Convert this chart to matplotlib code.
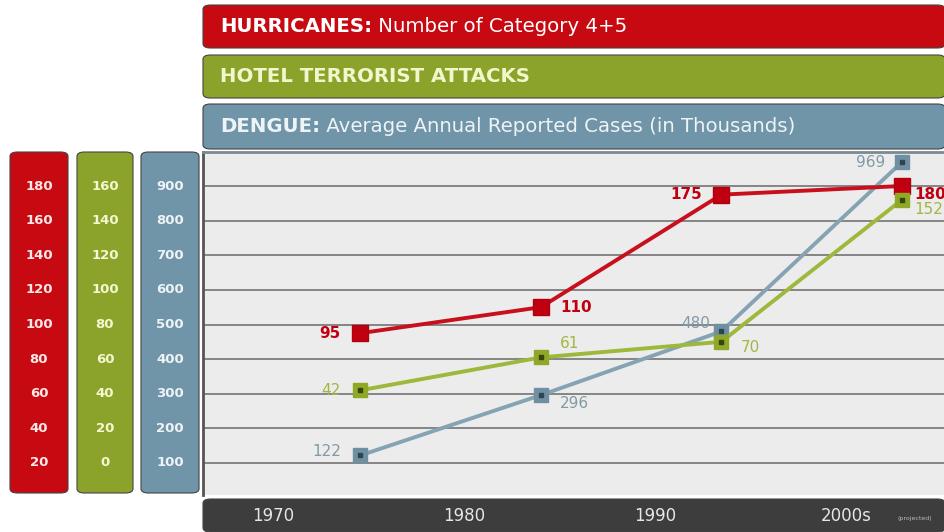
import matplotlib.pyplot as plt
from matplotlib.patches import FancyBboxPatch

# Data
decades = ['1970', '1980', '1990', '2000s']
hurricanes = [95, 110, 175, 180]
hotel_attacks = [42, 61, 70, 152]
dengue = [122, 296, 480, 969]

red_ticks = [20, 40, 60, 80, 100, 120, 140, 160, 180]
green_ticks = [0, 20, 40, 60, 80, 100, 120, 140, 160]
blue_ticks = [100, 200, 300, 400, 500, 600, 700, 800, 900]

RED = '#c70a12'
GREEN = '#8ba32a'
BLUE = '#7094a8'
RED_LINE = '#c8101c'
GREEN_LINE = '#9db83a'
BLUE_LINE = '#86a3b3'

W, H = 945, 532
fig = plt.figure(figsize=(W / 100, H / 100), dpi=100)
fig.patch.set_facecolor('white')


def fbox(x0, y0, x1, y1):
    # pixel box (top-left origin) -> figure fraction rect
    return [x0 / W, 1 - y1 / H, (x1 - x0) / W, (y1 - y0) / H]


def rounded(x0, y0, x1, y1, color):
    r = fbox(x0, y0, x1, y1)
    p = FancyBboxPatch((r[0], r[1]), r[2], r[3],
                       boxstyle='round,pad=0,rounding_size=0.008',
                       transform=fig.transFigure, facecolor=color,
                       edgecolor='#444444', linewidth=0.8, zorder=-5)
    fig.patches.append(p)


# Header banners
banners = [
    (5, 48, RED, 'HURRICANES:', ' Number of Category 4+5', 'white'),
    (55, 98, GREEN, 'HOTEL TERRORIST ATTACKS', '', '#f2f6cc'),
    (104, 149, BLUE, 'DENGUE:', ' Average Annual Reported Cases (in Thousands)', '#eef3f6'),
]
for y0, y1, col, bold, rest, tcol in banners:
    rounded(203, y0, 945, y1, col)
    yc = 1 - ((y0 + y1) / 2) / H
    t = fig.text(220 / W, yc, bold, color=tcol, fontsize=14.2, fontweight='bold',
                 va='center', ha='left', family='DejaVu Sans')
    if rest:
        fig.canvas.draw()
        bb = t.get_window_extent()
        fig.text(bb.x1 / W, yc, rest, color=tcol, fontsize=14.2,
                 va='center', ha='left', family='DejaVu Sans')

# Main plot area (blue scale as base)
top, bot = 152, 495
ax = fig.add_axes(fbox(203, top, 945, bot))
ax.set_facecolor('#ececec')
xpos = list(range(len(decades)))
ax.set_xlim(-0.872, 3.239)
blue_lim = (100 - (bot - 463) / 34.625 * 100, 900 + (186 - top) / 34.625 * 100)
ax.set_ylim(*blue_lim)
ax.set_yticks(blue_ticks)
ax.yaxis.grid(True, color='#858585', linewidth=1.4)
ax.set_axisbelow(True)
for s in ['right', 'bottom']:
    ax.spines[s].set_visible(False)
ax.spines['left'].set_color('#555555')
ax.spines['left'].set_linewidth(2)
ax.spines['top'].set_color('#7a8a92')
ax.spines['top'].set_linewidth(2)


def conv(lim, lo_blue, lo):
    return tuple(lo + (v - lo_blue) * 0.2 for v in lim)


red_lim = conv(blue_lim, 100, 20)
green_lim = conv(blue_lim, 100, 0)

ax_r = ax.twinx()
ax_g = ax.twinx()
for a, lim in [(ax_r, red_lim), (ax_g, green_lim)]:
    a.set_ylim(*lim)
    a.axis('off')
ax.tick_params(left=False, right=False, bottom=False,
               labelleft=False, labelbottom=False)

ax.plot(xpos, dengue, color=BLUE_LINE, lw=2.8, marker='s', ms=10,
        mfc='#6f90a2', mec='#6f90a2', zorder=3)
ax.plot(xpos, dengue, ls='none', marker='s', ms=2.5, color='#2e4450', zorder=4)
ax_g.plot(xpos, hotel_attacks, color=GREEN_LINE, lw=2.8, marker='s', ms=10,
          mfc='#8fa828', mec='#8fa828', zorder=3)
ax_g.plot(xpos, hotel_attacks, ls='none', marker='s', ms=2.5, color='#35450c', zorder=4)
ax_r.plot(xpos, hurricanes, color=RED_LINE, lw=2.8, marker='s', ms=11,
          mfc='#c00010', mec='#b00010', zorder=3)

# Value labels
red_off = [(-14, 0, 'right'), (14, 0, 'left'), (-14, 0, 'right'), (9, -6, 'left')]
green_off = [(-14, 0, 'right'), (14, 10, 'left'), (14, -4, 'left'), (9, -7, 'left')]
blue_off = [(-14, 3, 'right'), (14, -6, 'left'), (-8, 6, 'right'), (-12, 0, 'right')]
for a, vals, offs, col, fw in [(ax_r, hurricanes, red_off, '#c00010', 'bold'),
                               (ax_g, hotel_attacks, green_off, '#a3b542', 'normal'),
                               (ax, dengue, blue_off, '#8399a6', 'normal')]:
    for x, v, (dx, dy, ha) in zip(xpos, vals, offs):
        a.annotate(str(v), (x, v), xytext=(dx, dy), textcoords='offset points',
                   ha=ha, va='center', fontsize=11, fontweight=fw, color=col,
                   family='DejaVu Sans', zorder=5, annotation_clip=False)

# Left scale panels
panels = [(10, 68, RED, red_lim, red_ticks, '#ffe8e8'),
          (77, 133, GREEN, green_lim, green_ticks, '#f4f8d0'),
          (141, 199, BLUE, blue_lim, blue_ticks, '#eef3f6')]
for x0, x1, col, lim, ticks, tcol in panels:
    rounded(x0, top, x1, bot - 2, col)
    pa = fig.add_axes(fbox(x0, top, x1, bot))
    pa.set_xlim(0, 1)
    pa.set_ylim(*lim)
    pa.axis('off')
    for t in ticks:
        pa.text(0.5, t, str(t), ha='center', va='center', fontsize=9.5,
                fontweight='bold', color=tcol, family='DejaVu Sans')

# Bottom decade bar
rounded(203, 499, 945, 532, '#3d3d3d')
bx = fig.add_axes(fbox(203, 499, 945, 532))
bx.set_xlim(-0.367, 3.52)
bx.set_ylim(0, 1)
bx.axis('off')
for i, d in enumerate(decades):
    bx.text(i, 0.48, d, ha='center', va='center', fontsize=12,
            color='#e6e6e6', family='DejaVu Sans')
bx.text(3.36, 0.4, '(projected)', ha='center', va='center', fontsize=4.5,
        color='#bbbbbb', family='DejaVu Sans')

fig.savefig('out.png', dpi=100)
